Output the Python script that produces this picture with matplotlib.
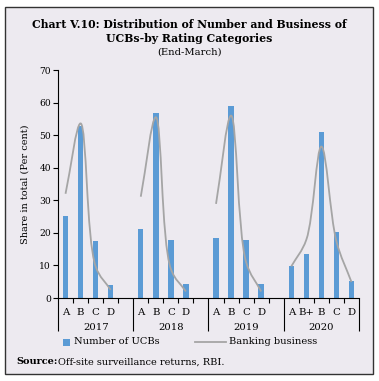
import numpy as np
import matplotlib.pyplot as plt
from matplotlib.path import Path
from matplotlib.patches import PathPatch, Rectangle
from matplotlib.lines import Line2D
from matplotlib.transforms import blended_transform_factory

# Chart data
years = ['2017', '2018', '2019', '2020']
categories = [['A', 'B', 'C', 'D'],
              ['A', 'B', 'C', 'D'],
              ['A', 'B', 'C', 'D'],
              ['A', 'B+', 'B', 'C', 'D']]
ucbs = [[25.3, 52.9, 17.6, 4.0],
        [21.1, 56.7, 17.9, 4.4],
        [18.4, 59.0, 17.8, 4.4],
        [9.9, 13.5, 50.9, 20.3, 5.1]]
business = [[32.0, 53.6, 9.7, 2.5],
            [31.1, 55.5, 8.9, 2.0],
            [28.9, 56.0, 11.0, 2.0],
            [9.7, 17.9, 46.5, 17.4, 4.9]]

BAR = '#5B9BD5'
LINE = '#A5A5A5'
BG = '#EDEAF0'
plt.rcParams['font.family'] = 'DejaVu Serif'


def smooth_path(ax, xs, ys, alpha=0.5):
    # centripetal Catmull-Rom worked out in screen space, like a "smoothed line"
    P = ax.transData.transform(np.column_stack([xs, ys]))
    P = np.vstack([2 * P[0] - P[1], P, 2 * P[-1] - P[-2]])
    verts = [P[1]]
    for i in range(1, len(P) - 2):
        p0, p1, p2, p3 = P[i - 1], P[i], P[i + 1], P[i + 2]
        d0 = np.linalg.norm(p1 - p0) ** alpha
        d1 = np.linalg.norm(p2 - p1) ** alpha
        d2 = np.linalg.norm(p3 - p2) ** alpha
        m1 = (p1 - p0) / d0 - (p2 - p0) / (d0 + d1) + (p2 - p1) / d1
        m2 = (p2 - p1) / d1 - (p3 - p1) / (d1 + d2) + (p3 - p2) / d2
        verts += [p1 + m1 * d1 / 3, p2 - m2 * d1 / 3, p2]
    verts = ax.transData.inverted().transform(np.array(verts))
    codes = [Path.MOVETO] + [Path.CURVE4] * (len(verts) - 1)
    return Path(verts, codes)


fig = plt.figure(figsize=(3.79, 3.81), dpi=100)
fig.patch.set_facecolor('white')
fig.patches.append(Rectangle((5 / 379, 1 - 374 / 381), 368 / 379, 367 / 381,
                             transform=fig.transFigure, facecolor=BG,
                             edgecolor='#333333', linewidth=1.0, zorder=-5))

ax = fig.add_axes([58 / 379, 1 - 298 / 381, 301 / 379, 228 / 381])
ax.set_facecolor('none')

slot = 5
ax.set_xlim(-0.5, len(years) * slot - 0.5)
ax.set_ylim(0, 70)

for g, (cats, u, b) in enumerate(zip(categories, ucbs, business)):
    xs = np.arange(len(cats)) + g * slot
    ax.bar(xs, u, width=0.36, color=BAR, zorder=2)
    ax.add_patch(PathPatch(smooth_path(ax, xs, b), facecolor='none', edgecolor=LINE,
                           linewidth=1.3, zorder=3))

ax.set_yticks(range(0, 71, 10))
ax.tick_params(axis='y', length=3.5, width=0.8, labelsize=6.6, pad=1.5)
ax.set_ylabel('Share in total (Per cent)', fontsize=7, labelpad=7)

for s in ['top', 'right']:
    ax.spines[s].set_visible(False)
for s in ['left', 'bottom']:
    ax.spines[s].set_linewidth(0.8)

# group separators (long) and category separators (short)
group_edges = [g * slot - 0.5 for g in range(len(years) + 1)]
minor = [g * slot + k + 0.5 for g in range(len(years)) for k in range(4)]
ax.set_xticks(group_edges)
ax.set_xticklabels([])
ax.set_xticks(minor, minor=True)
ax.tick_params(axis='x', which='major', length=24, width=0.8)
ax.tick_params(axis='x', which='minor', length=3.5, width=0.8)

trans = blended_transform_factory(ax.transData, ax.transAxes)
for g, (yr, cats) in enumerate(zip(years, categories)):
    for k, c in enumerate(cats):
        ax.text(g * slot + k, -0.065, c, transform=trans, ha='center', va='center',
                fontsize=7.3)
    ax.text(g * slot + 2, -0.128, yr, transform=trans, ha='center', va='center',
            fontsize=7.2)

# legend, laid out by hand
ly = 1 - 342 / 381
fig.patches.append(Rectangle((63 / 379, ly - 3.5 / 381), 7 / 379, 7 / 381,
                             transform=fig.transFigure, facecolor=BAR, edgecolor='none'))
fig.text(74 / 379, ly, 'Number of UCBs', ha='left', va='center', fontsize=7.1)
fig.lines.append(Line2D([195 / 379, 226 / 379], [ly, ly], transform=fig.transFigure,
                        color=LINE, linewidth=1.3))
fig.text(229 / 379, ly, 'Banking business', ha='left', va='center', fontsize=7.1)

fig.text(0.5, 1 - 24 / 381, 'Chart V.10: Distribution of Number and Business of',
         ha='center', va='center', fontsize=7.85, fontweight='bold')
fig.text(0.5, 1 - 38 / 381, 'UCBs-by Rating Categories', ha='center', va='center',
         fontsize=7.85, fontweight='bold')
fig.text(0.5, 1 - 52 / 381, '(End-March)', ha='center', va='center', fontsize=7.2)

fig.text(16 / 379, 1 - 362 / 381, 'Source:', ha='left', va='center', fontsize=7,
         fontweight='bold')
fig.text(58 / 379, 1 - 362 / 381, 'Off-site surveillance returns, RBI.', ha='left',
         va='center', fontsize=7)

fig.savefig('out.png', dpi=100, facecolor=fig.get_facecolor())
